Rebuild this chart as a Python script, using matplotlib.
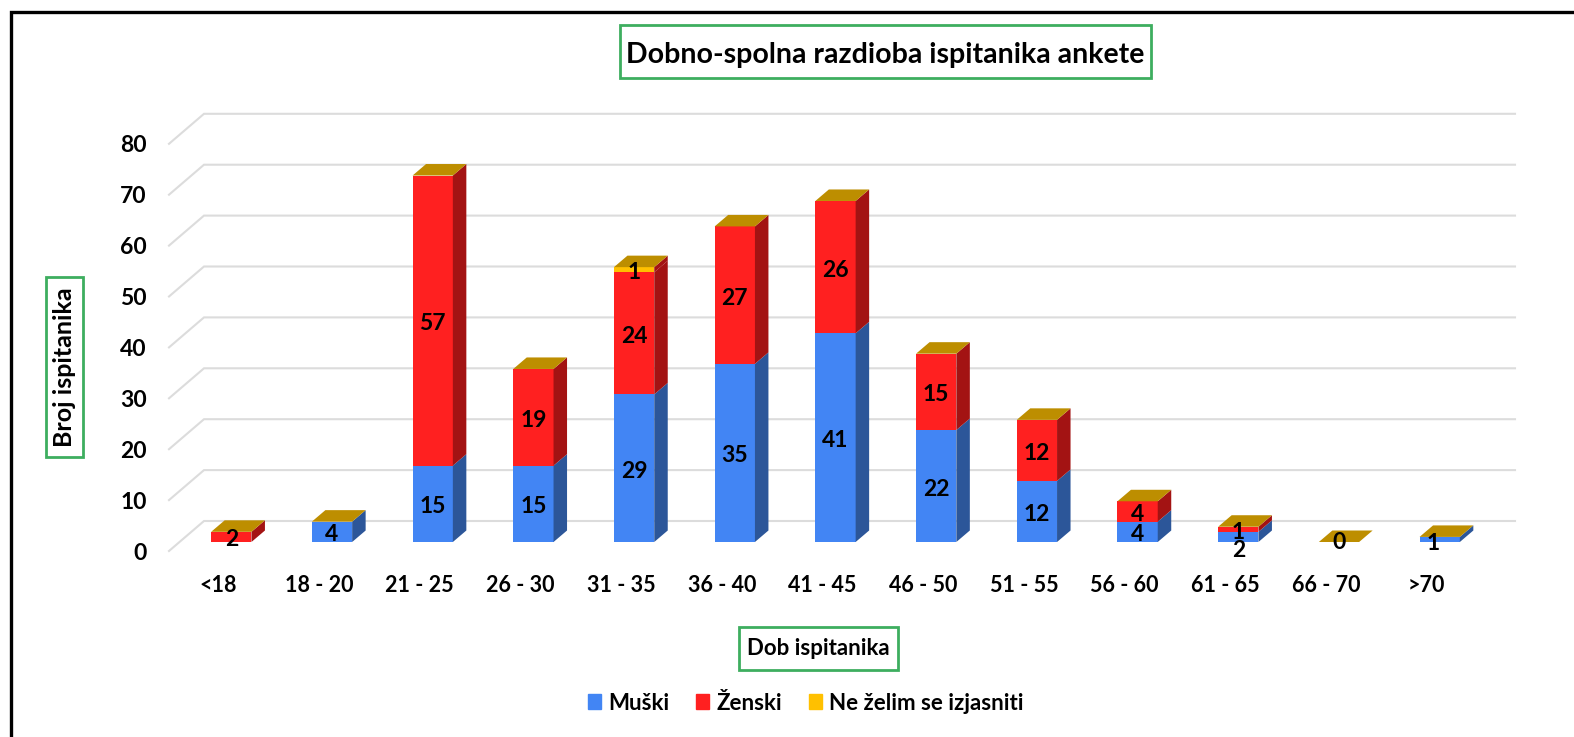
import matplotlib
matplotlib.use("Agg")
import matplotlib.pyplot as plt
from matplotlib.lines import Line2D
from matplotlib.patches import Polygon, Patch, Rectangle
from matplotlib.transforms import ScaledTranslation

# Data
age_groups = ["<18", "18 - 20", "21 - 25", "26 - 30", "31 - 35", "36 - 40", "41 - 45",
              "46 - 50", "51 - 55", "56 - 60", "61 - 65", "66 - 70", ">70"]
male = [0, 4, 15, 15, 29, 35, 41, 22, 12, 4, 2, 0, 1]
female = [2, 0, 57, 19, 24, 27, 26, 15, 12, 4, 1, 0, 0]
undeclared = [0, 0, 0, 0, 1, 0, 0, 0, 0, 0, 0, 0, 0]
series_names = ["Muški", "Ženski", "Ne želim se izjasniti"]
y_ticks = [0, 10, 20, 30, 40, 50, 60, 70, 80]

# Colours: front, side
blue, blue_side = "#4285F4", "#2C5699"
red, red_side = "#FF2020", "#A31313"
yellow, top_color = "#FFC000", "#BD8E00"
green = "#3DAE5F"
grid_color = "#DCDCDC"

W, H = 1574, 737
plt.rcParams["font.family"] = ["Lato", "DejaVu Sans"]
plt.rcParams["font.weight"] = "bold"

fig = plt.figure(figsize=(W / 100, H / 100), dpi=100)

# Axes box in pixels: v=0 sits on the bar baseline
px_per_cat = 100.7
px_per_val = 5.09
left, right, base = 169, 1515, 542
ax = fig.add_axes([left / W, (H - base) / H, (right - left) / W, 80 * px_per_val / H])
xmin = (left - 231.3) / px_per_cat
xmax = (right - 231.3) / px_per_cat
ax.set_xlim(xmin, xmax)
ax.set_ylim(0, 80)
for s in ax.spines.values():
    s.set_visible(False)

# pseudo 3d depth of the bars and of the floor
dx, dy = 13.5 / px_per_cat, 11.5 / px_per_val
front_dy = 9 / px_per_val
back_dx, back_dy = 35 / px_per_cat, 21 / px_per_val

for v in y_ticks:
    ax.plot([xmin, xmin + back_dx, xmax], [v - front_dy, v + back_dy, v + back_dy],
            color=grid_color, lw=1.5, clip_on=False, zorder=1, solid_joinstyle="miter")

x = list(range(len(age_groups)))
width = 0.4
bottoms = [0] * len(x)
series = [male, female, undeclared]
fronts = [blue, red, yellow]
sides = [blue_side, red_side, red_side]

# labels that were pushed away from the segment centre (pixels)
label_shift = {(10, 0): (0, -11), (12, 0): (-7, -1)}

for k, vals in enumerate(series):
    ax.bar(x, vals, width, bottom=bottoms, color=fronts[k], zorder=3, clip_on=False)
    for i, v in enumerate(vals):
        if v == 0:
            continue
        b = bottoms[i]
        r = i + width / 2
        ax.add_patch(Polygon([(r, b), (r + dx, b + dy), (r + dx, b + v + dy), (r, b + v)],
                             facecolor=sides[k], edgecolor="none", zorder=3, clip_on=False))
    bottoms = [b + v for b, v in zip(bottoms, vals)]

for i, t in enumerate(bottoms):
    l = i - width / 2
    r = i + width / 2
    ax.add_patch(Polygon([(l, t), (r, t), (r + dx, t + dy), (l + dx, t + dy)],
                         facecolor=top_color, edgecolor="none", zorder=3, clip_on=False))

# data labels
bottoms = [0] * len(x)
for k, vals in enumerate(series):
    for i, v in enumerate(vals):
        if v > 0:
            sx, sy = label_shift.get((i, k), (0, 0))
            ax.annotate(str(v), (i, bottoms[i] + v / 2), xytext=(sx * 0.72, (sy - 3) * 0.72),
                        textcoords="offset points", ha="center", va="center",
                        fontsize=16.5, color="black", zorder=5, annotation_clip=False)
    bottoms = [b + v for b, v in zip(bottoms, vals)]
ax.annotate("0", (11, 0), xytext=(0, -0.7), textcoords="offset points", ha="center", va="center",
            fontsize=16.5, zorder=5, annotation_clip=False)

# tick labels sit on the front edge of the floor, not on the bars
ax.set_xticks(x, age_groups)
ax.set_yticks(y_ticks)
ax.tick_params(length=0)
ax.tick_params(axis="x", pad=24, labelsize=15.5)
ax.tick_params(axis="y", pad=16, labelsize=16.5)
for lab in ax.get_xticklabels():
    lab.set_transform(lab.get_transform() + ScaledTranslation(-13 / 100, 0, fig.dpi_scale_trans))
for lab in ax.get_yticklabels():
    lab.set_transform(lab.get_transform() + ScaledTranslation(0, -9 / 100, fig.dpi_scale_trans))


def framed_text(x0, y0, x1, y1, text, size, rotation=0, shift=0):
    # green box given in pixels from the top left corner
    fig.add_artist(Rectangle((x0 / W, 1 - y1 / H), (x1 - x0) / W, (y1 - y0) / H, facecolor="white",
                             edgecolor=green, linewidth=2, transform=fig.transFigure))
    fig.text((x0 + x1) / 2 / W, 1 - ((y0 + y1) / 2 + shift) / H, text, fontsize=size,
             rotation=rotation, ha="center", va="center")


framed_text(620, 25, 1151, 78, "Dobno-spolna razdioba ispitanika ankete", 20.5, shift=3)
framed_text(739, 627, 898, 670, "Dob ispitanika", 16)
framed_text(46, 277, 83, 457, "Broj ispitanika", 18, rotation=90)

handles = [Patch(color=c) for c in fronts]
fig.legend(handles, series_names, ncol=3, loc="center", bbox_to_anchor=(806 / W, 1 - 703 / H),
           frameon=False, fontsize=16, handlelength=0.58, handleheight=0.65,
           handletextpad=0.33, columnspacing=1.2)

# black frame: only the top and left sides
fig.add_artist(Line2D([11 / W, 11 / W, 1], [0, 1 - 12 / H, 1 - 12 / H], color="black", lw=2.4,
                      solid_joinstyle="miter"))

fig.savefig("out.png", dpi=100)
